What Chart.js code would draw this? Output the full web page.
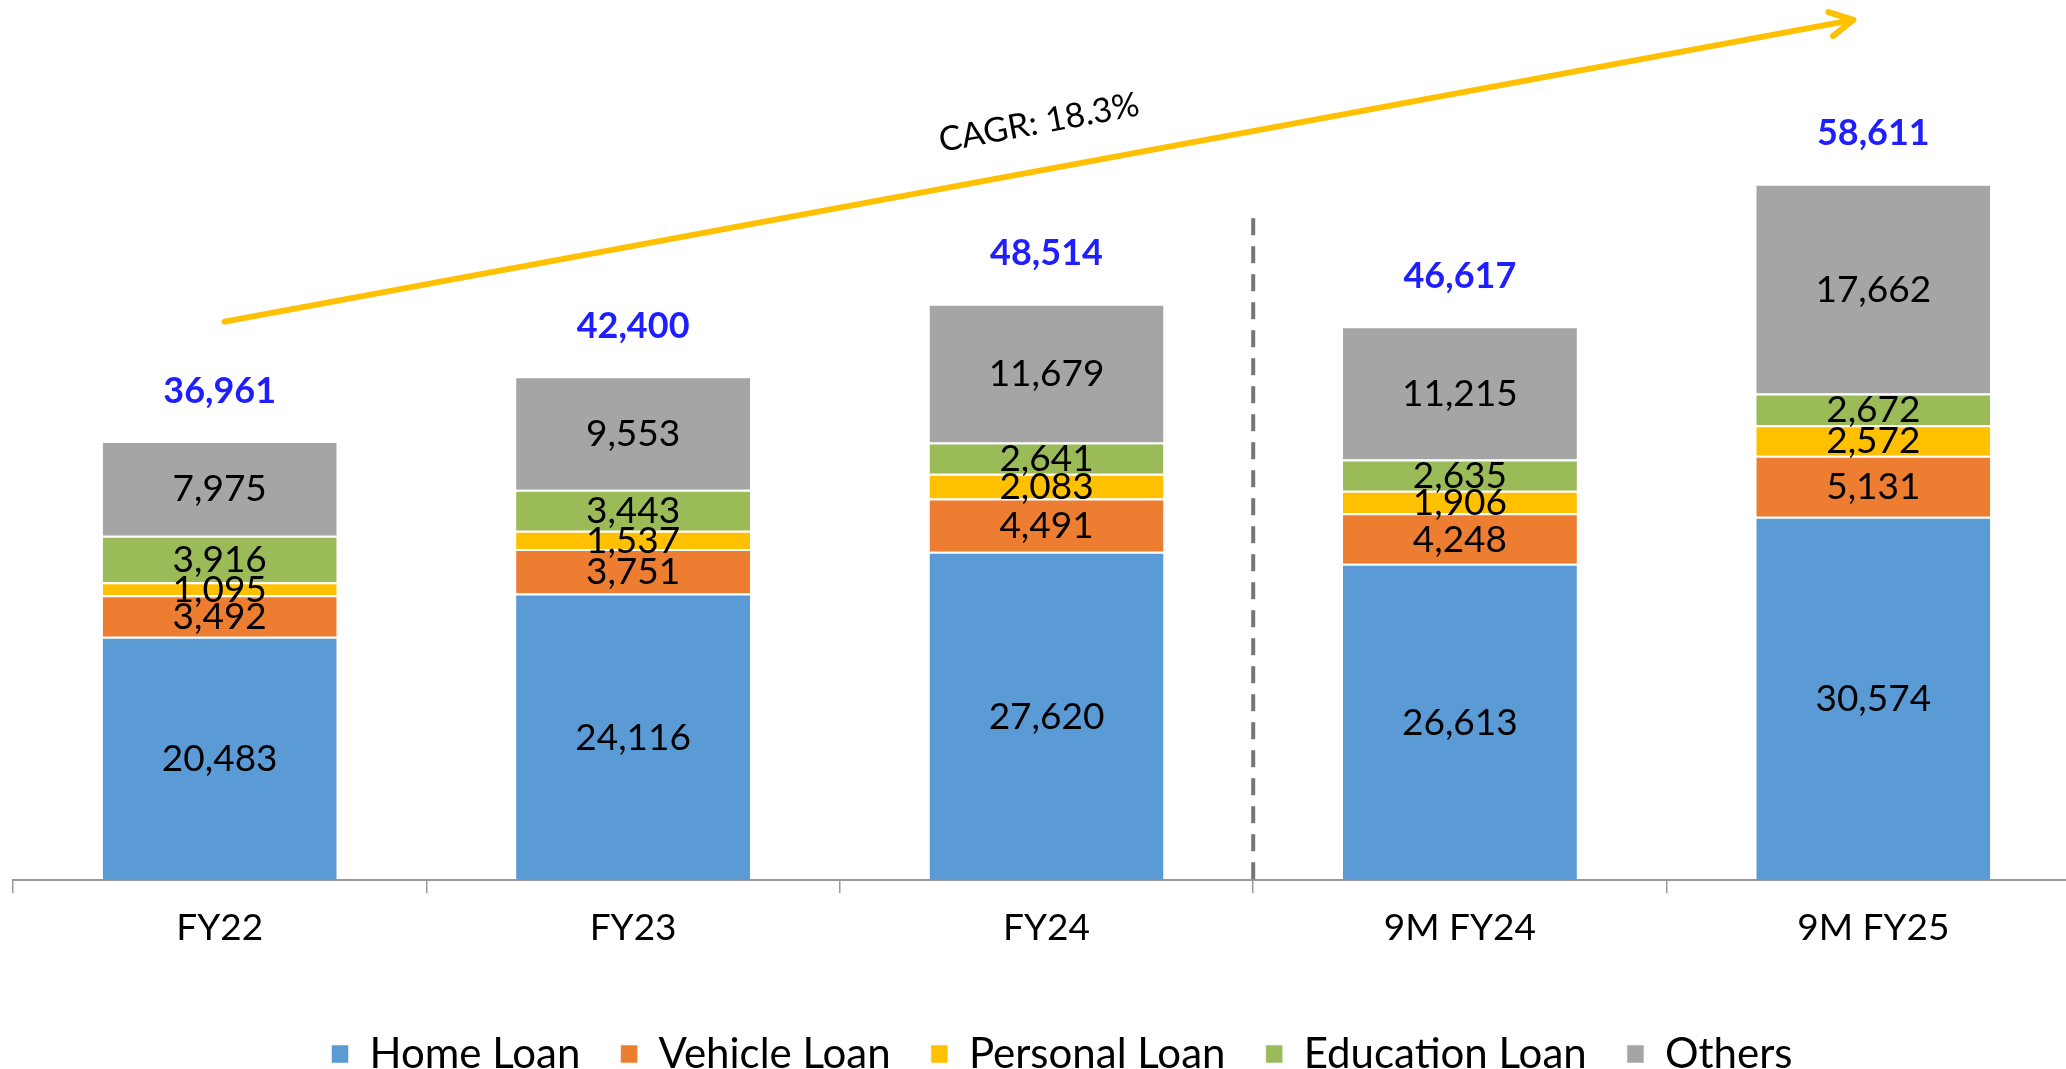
<!DOCTYPE html>
<html><head><meta charset="utf-8">
<script src="https://cdn.jsdelivr.net/npm/chart.js@4.4.1/dist/chart.umd.min.js"></script>
<style>
html,body{margin:0;padding:0;overflow:hidden;background:#fff;width:2066px;height:1069px}
#wrap{position:absolute;left:0;top:0;width:2111px;height:1085px}
canvas{display:block}
</style></head><body>
<div id="wrap"><canvas id="c" width="2111" height="1085"></canvas></div>
<script>
const categories = ['FY22', 'FY23', 'FY24', '9M FY24', '9M FY25'];
const homeLoan = [20483, 24116, 27620, 26613, 30574];
const vehicleLoan = [3492, 3751, 4491, 4248, 5131];
const personalLoan = [1095, 1537, 2083, 1906, 2572];
const educationLoan = [3916, 3443, 2641, 2635, 2672];
const others = [7975, 9553, 11679, 11215, 17662];
const seriesNames = ['Home Loan', 'Vehicle Loan', 'Personal Loan', 'Education Loan', 'Others'];
const cagrLabel = 'CAGR: 18.3%';

const FONT = 'Lato, "Open Sans", "DejaVu Sans", sans-serif';
const colors = ['#5B9BD5', '#ED7D31', '#FFC000', '#9BBB59', '#A5A5A5'];
const seriesData = [homeLoan, vehicleLoan, personalLoan, educationLoan, others];

const fmt = v => v.toLocaleString('en-US');

const labelPlugin = {
  id: 'segLabels',
  afterDatasetsDraw(chart) {
    const ctx = chart.ctx;
    const ys = chart.scales.y;
    ctx.save();
    ctx.textAlign = 'center';
    ctx.textBaseline = 'middle';
    ctx.fillStyle = '#000';
    ctx.font = '37px ' + FONT;
    chart.data.datasets.forEach((ds, i) => {
      const meta = chart.getDatasetMeta(i);
      meta.data.forEach((el, j) => {
        ctx.fillText(fmt(ds.data[j]), el.x, (el.y + el.base) / 2 + 1);
      });
    });
    // totals
    ctx.font = 'bold 36px ' + FONT;
    ctx.fillStyle = '#1E1EFF';
    const meta0 = chart.getDatasetMeta(0);
    categories.forEach((c, j) => {
      let total = 0;
      chart.data.datasets.forEach(ds => { total += ds.data[j]; });
      ctx.fillText(fmt(total), meta0.data[j].x, ys.getPixelForValue(total) - 50);
    });
    ctx.restore();
  }
};

const annotPlugin = {
  id: 'annot',
  afterDraw(chart) {
    const ctx = chart.ctx;
    const xs = chart.scales.x, ys = chart.scales.y;
    const area = chart.chartArea;
    ctx.save();
    // dashed separator between FY24 and 9M FY24
    const xd = (xs.getPixelForValue(2) + xs.getPixelForValue(3)) / 2;
    ctx.strokeStyle = '#767676';
    ctx.lineWidth = 4;
    ctx.setLineDash([17, 11]);
    ctx.beginPath();
    ctx.moveTo(xd, ys.getPixelForValue(55700));
    ctx.lineTo(xd, area.bottom);
    ctx.stroke();
    ctx.setLineDash([]);
    // CAGR arrow
    const x0 = xs.getPixelForValue(0) + 5, y0 = ys.getPixelForValue(47000);
    const x1 = xs.getPixelForValue(4) - 20, y1 = ys.getPixelForValue(72400);
    const ang = Math.atan2(y1 - y0, x1 - x0);
    ctx.strokeStyle = '#FFC000';
    ctx.lineWidth = 6;
    ctx.lineCap = 'round';
    ctx.lineJoin = 'round';
    ctx.beginPath();
    ctx.moveTo(x0, y0);
    ctx.lineTo(x1, y1);
    ctx.stroke();
    const L = 26, a = 28 * Math.PI / 180;
    ctx.beginPath();
    ctx.moveTo(x1 - L * Math.cos(ang - a), y1 - L * Math.sin(ang - a));
    ctx.lineTo(x1, y1);
    ctx.lineTo(x1 - L * Math.cos(ang + a), y1 - L * Math.sin(ang + a));
    ctx.stroke();
    // CAGR label
    const xm = (x0 + x1) / 2, ym = (y0 + y1) / 2 - 48;
    ctx.translate(xm, ym);
    ctx.rotate(ang);
    ctx.font = '34px ' + FONT;
    ctx.fillStyle = '#000';
    ctx.textAlign = 'center';
    ctx.textBaseline = 'middle';
    ctx.fillText(cagrLabel, 0, 0);
    ctx.restore();
  }
};

new Chart(document.getElementById('c'), {
  type: 'bar',
  data: {
    labels: categories,
    datasets: seriesNames.map((n, i) => ({
      label: n,
      data: seriesData[i],
      backgroundColor: colors[i],
      borderColor: '#ffffff',
      borderWidth: {top: 2, right: 0, bottom: 0, left: 0},
      borderSkipped: 'start',
      categoryPercentage: 1,
      barPercentage: 0.566
    }))
  },
  options: {
    responsive: false,
    animation: false,
    devicePixelRatio: 1,
    layout: {padding: {left: 13, right: 0, top: 48.4, bottom: 0}},
    plugins: {
      legend: {
        position: 'bottom',
        labels: {boxWidth: 17, boxHeight: 18, padding: 40.25, color: '#000', font: {family: FONT, size: 42}}
      },
      tooltip: {enabled: false}
    },
    scales: {
      x: {
        stacked: true,
        offset: true,
        grid: {display: true, drawOnChartArea: false, drawTicks: true, tickLength: 13, color: '#9a9a9a', lineWidth: 1.5, offset: true},
        border: {display: true, color: '#9a9a9a', width: 2},
        ticks: {color: '#000', padding: 13, font: {family: FONT, size: 37}},
        afterFit: s => { s.height = 112.75; }
      },
      y: {
        stacked: true,
        position: 'right',
        min: 0,
        max: 70000,
        ticks: {display: false},
        grid: {display: false},
        border: {display: false},
        afterFit: s => { s.width = 31; }
      }
    }
  },
  plugins: [labelPlugin, annotPlugin]
});
</script>
</body></html>
